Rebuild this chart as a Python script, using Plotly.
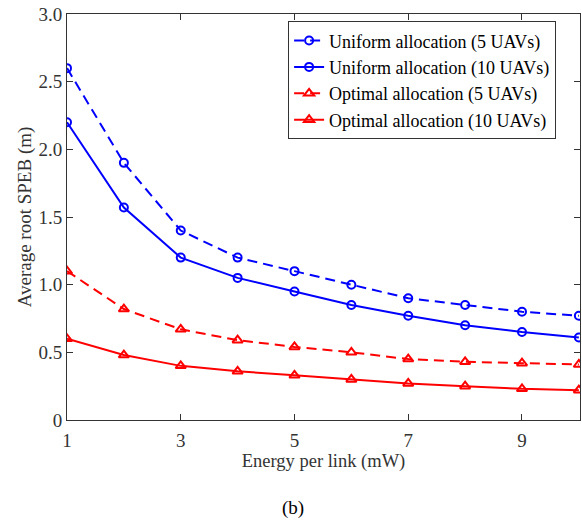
import plotly.graph_objects as go

energy = [1, 2, 3, 4, 5, 6, 7, 8, 9, 10]
uniform_5 = [2.60, 1.90, 1.40, 1.20, 1.10, 1.00, 0.90, 0.85, 0.80, 0.77]
uniform_10 = [2.20, 1.57, 1.20, 1.05, 0.95, 0.85, 0.77, 0.70, 0.65, 0.61]
optimal_5 = [1.10, 0.82, 0.67, 0.59, 0.54, 0.50, 0.45, 0.43, 0.42, 0.41]
optimal_10 = [0.60, 0.48, 0.40, 0.36, 0.33, 0.30, 0.27, 0.25, 0.23, 0.22]

x_ticks = [1, 3, 5, 7, 9]
y_ticks = [0, 0.5, 1.0, 1.5, 2.0, 2.5, 3.0]
y_tick_text = ["0", "0.5", "1.0", "1.5", "2.0", "2.5", "3.0"]

BLUE = "#0000FF"
RED = "#FF0000"
FONT = "Times New Roman, Liberation Serif, serif"
AXIS = "#333333"

series = [
    ("Uniform allocation (5 UAVs)", uniform_5, BLUE, "10px,6px", "circle-open", 8),
    ("Uniform allocation (10 UAVs)", uniform_10, BLUE, "solid", "circle-open", 8),
    ("Optimal allocation (5 UAVs)", optimal_5, RED, "10px,6px", "triangle-up-open", 9),
    ("Optimal allocation (10 UAVs)", optimal_10, RED, "solid", "triangle-up-open", 9),
]

fig = go.Figure()
for name, values, color, dash, symbol, msize in series:
    fig.add_trace(go.Scatter(
        x=energy, y=values, name=name, mode="lines+markers",
        line=dict(color=color, width=2, dash=dash),
        marker=dict(symbol=symbol, size=msize, color=color,
                    line=dict(color=color, width=2)),
    ))

axis_common = dict(
    showline=True, linecolor=AXIS, linewidth=1, mirror="ticks",
    ticks="inside", ticklen=6, tickcolor=AXIS,
    showgrid=False, zeroline=False,
    tickfont=dict(family=FONT, size=19, color=AXIS),
)

fig.update_layout(
    width=582, height=522,
    margin=dict(l=67, r=2, t=14, b=102),
    plot_bgcolor="white", paper_bgcolor="white",
    font=dict(family=FONT, size=18, color=AXIS),
    xaxis=dict(range=[1, 10.02], tickvals=x_ticks, ticklabelstandoff=3,
               title=dict(text="Energy per link (mW)", standoff=2,
                          font=dict(family=FONT, size=18.5, color=AXIS)),
               **axis_common),
    yaxis=dict(range=[0, 3.0], tickvals=y_ticks, ticktext=y_tick_text,
               title=dict(text="Average root SPEB (m)", standoff=1,
                          font=dict(family=FONT, size=19, color=AXIS)),
               **axis_common),
    legend=dict(x=0.431, y=0.982, xanchor="left", yanchor="top",
                bordercolor=AXIS, borderwidth=1, bgcolor="white",
                font=dict(family=FONT, size=18, color="black"),
                tracegroupgap=0, itemwidth=30),
    annotations=[dict(text="(b)", xref="paper", yref="paper",
                      x=0.44, y=-0.217, xanchor="center", yanchor="middle",
                      showarrow=False,
                      font=dict(family=FONT, size=19, color="black"))],
    showlegend=True,
)

fig.write_html("out.html")
